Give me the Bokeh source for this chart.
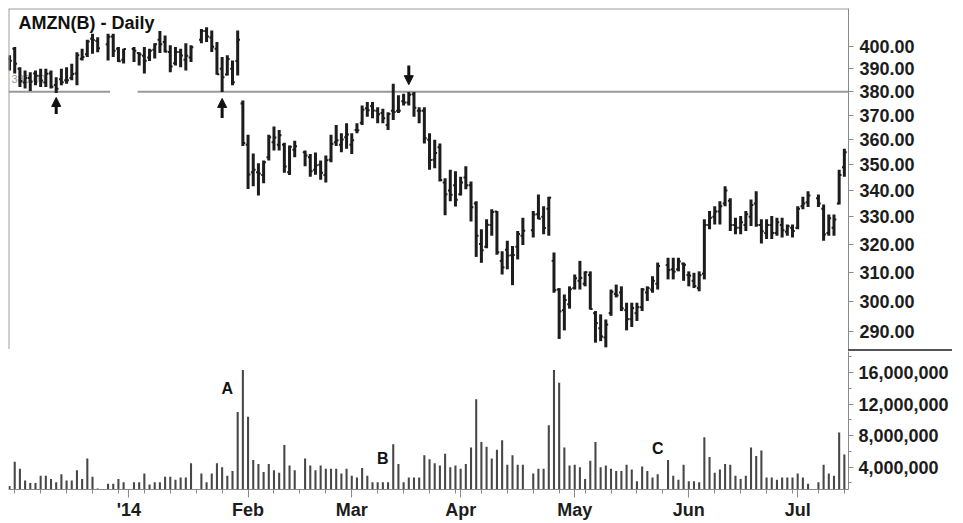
import numpy as np
import pandas as pd
from bokeh.plotting import figure
from bokeh.layouts import column
from bokeh.models import (Range1d, FixedTicker, PrintfTickFormatter, NumeralTickFormatter,
                          Span, Arrow, NormalHead, Label, ColumnDataSource, Div)
from bokeh.embed import file_html
from bokeh.resources import INLINE
from bokeh.core.properties import value

# ---------------- data ----------------
start_date = "2013-11-29"
end_date = "2014-07-14"
holidays = ["2013-12-25", "2014-01-01", "2014-01-20", "2014-02-17",
            "2014-04-18", "2014-05-26", "2014-07-04"]

opens = [394.5, 399.0, 390.0, 384.0, 386.0, 388.0, 387.0, 384.0, 388.0, 383.0,
         385.5, 385.0, 386.0, 388.0, 394.5, 396.5, 403.5, 402.5, 401.0, 404.5,
         399.0, 394.0, 398.8, 397.0, 395.8, 395.0, 398.5, 403.0, 402.0, 397.5,
         392.5, 397.5, 394.0, 395.0, 403.0, 407.0, 404.0, 399.0, 390.0, 387.5,
         390.0, 393.5, 375.0, 358.0, 347.0, 347.0, 346.0, 353.0, 359.0, 358.0,
         358.0, 347.0, 356.0, 355.0, 353.0, 348.0, 350.0, 346.0, 352.0, 359.0,
         358.0, 361.0, 358.0, 364.0, 367.0, 373.0, 374.0, 372.0, 371.0, 366.0,
         372.0, 372.0, 376.0, 375.5, 379.0, 372.0, 372.0, 360.0, 352.0, 357.0,
         343.0, 340.0, 342.0, 338.5, 345.0, 342.0, 335.0, 320.0, 319.0, 327.0,
         332.0, 314.0, 318.0, 316.0, 319.0, 323.0, 325.0, 331.0, 330.0, 333.0,
         314.0, 304.0, 297.0, 299.0, 304.5, 307.0, 306.0, 309.0, 296.0, 291.0,
         288.0, 296.0, 302.5, 303.0, 297.0, 294.0, 296.0, 298.0, 303.0, 304.0,
         306.0, 312.5, 311.0, 311.0, 313.0, 309.0, 307.0, 304.5, 309.5, 327.0,
         330.0, 332.0, 335.0, 336.0, 327.0, 326.0, 327.0, 330.0, 335.0, 327.0,
         324.0, 327.0, 324.0, 327.0, 324.5, 326.0, 326.0, 334.0, 335.5, 337.0,
         333.0, 324.0, 326.0, 335.0, 349.0]
highs = [396.0, 399.7, 390.7, 389.3, 388.5, 389.3, 390.0, 390.0, 389.3, 386.3,
         390.0, 390.7, 392.2, 397.4, 399.0, 403.0, 405.8, 404.2, 405.8, 405.8,
         399.7, 399.0, 399.7, 397.4, 399.7, 399.0, 401.4, 407.0, 405.0, 400.5,
         399.7, 399.0, 401.4, 400.5, 408.0, 408.8, 407.3, 402.0, 395.2, 396.0,
         393.7, 407.3, 376.3, 362.0, 354.5, 350.6, 351.7, 362.0, 365.4, 364.0,
         358.8, 357.7, 359.6, 355.7, 354.3, 354.9, 351.7, 353.7, 362.0, 366.1,
         362.7, 366.8, 362.7, 366.8, 374.2, 375.7, 375.7, 373.5, 372.8, 371.4,
         383.5, 378.5, 379.2, 379.9, 379.9, 373.5, 373.5, 362.7, 360.0, 358.5,
         344.7, 348.0, 347.4, 345.3, 349.4, 343.4, 335.9, 325.4, 329.1, 332.8,
         332.2, 317.4, 321.2, 319.3, 324.8, 329.7, 332.2, 338.4, 334.0, 337.6,
         317.0, 304.5, 302.3, 305.1, 309.2, 314.0, 310.3, 310.3, 296.7, 295.6,
         293.9, 304.0, 305.7, 305.1, 299.5, 299.5, 299.5, 304.5, 305.1, 308.6,
         313.4, 315.1, 315.1, 315.1, 313.4, 310.3, 309.8, 310.3, 329.1, 332.2,
         334.0, 335.9, 341.6, 337.0, 329.7, 330.3, 332.2, 336.5, 339.7, 329.1,
         329.1, 330.3, 329.7, 329.7, 327.2, 327.2, 334.0, 337.6, 339.7, 338.4,
         334.6, 330.9, 330.9, 348.0, 356.4]
lows = [389.3, 388.0, 382.1, 381.5, 380.4, 382.8, 382.1, 382.1, 381.5, 379.5,
        382.8, 383.5, 385.0, 382.8, 393.7, 395.2, 396.7, 397.4, 393.7, 395.2,
        393.0, 392.4, 393.0, 391.5, 388.0, 393.5, 394.6, 397.0, 397.3, 388.5,
        391.5, 390.7, 389.3, 393.0, 401.4, 402.0, 397.5, 387.4, 379.9, 387.1,
        382.8, 387.1, 357.5, 340.5, 341.6, 338.0, 342.8, 351.7, 355.7, 355.7,
        346.8, 346.0, 353.0, 349.4, 345.3, 346.1, 344.1, 343.0, 351.0, 357.5,
        355.0, 356.4, 354.3, 362.7, 366.1, 369.5, 368.8, 366.8, 366.8, 364.0,
        368.1, 371.0, 374.2, 374.2, 369.5, 366.8, 358.5, 348.0, 348.6, 343.4,
        330.6, 335.9, 333.9, 338.0, 340.4, 328.3, 315.4, 313.3, 318.5, 323.0,
        316.2, 309.2, 311.0, 305.5, 314.5, 319.7, 322.4, 329.1, 323.6, 323.0,
        302.9, 287.5, 290.3, 297.5, 304.0, 304.0, 305.1, 297.2, 286.3, 286.8,
        284.8, 295.1, 301.3, 296.7, 290.3, 291.4, 293.4, 296.7, 300.1, 302.9,
        304.0, 307.5, 307.5, 310.3, 307.0, 305.1, 304.5, 303.4, 307.5, 325.4,
        327.2, 327.2, 334.0, 324.8, 323.6, 323.6, 324.8, 326.6, 326.3, 320.2,
        321.8, 321.8, 323.0, 322.4, 323.0, 322.4, 325.4, 332.8, 333.7, 333.7,
        321.2, 323.0, 323.0, 334.6, 345.3]
closes = [393.6, 392.3, 384.7, 386.0, 384.5, 387.0, 384.9, 387.8, 382.2, 381.3,
          384.2, 385.0, 387.7, 396.0, 395.2, 402.2, 402.9, 399.2, 404.4, 398.1,
          393.4, 398.8, 398.0, 396.4, 393.6, 398.0, 401.0, 401.0, 397.7, 391.0,
          397.5, 395.9, 395.8, 399.6, 407.0, 404.5, 399.9, 387.6, 386.3, 394.4,
          384.2, 403.0, 358.7, 346.2, 348.0, 346.5, 351.0, 361.0, 360.9, 361.8,
          349.3, 357.2, 357.4, 353.7, 347.4, 349.8, 346.8, 351.8, 358.3, 359.8,
          360.1, 362.1, 359.8, 363.9, 372.4, 372.2, 372.1, 370.5, 368.8, 370.6,
          371.5, 372.0, 375.5, 378.8, 373.2, 372.0, 360.6, 351.9, 354.7, 344.0,
          338.5, 338.3, 336.4, 343.0, 342.0, 333.6, 323.0, 317.8, 327.1, 331.8,
          317.1, 311.7, 315.9, 316.1, 323.7, 324.9, 330.9, 329.3, 325.9, 337.2,
          303.8, 296.6, 300.4, 304.1, 307.9, 308.0, 310.0, 297.4, 292.7, 288.3,
          292.2, 303.2, 302.0, 297.6, 294.0, 297.7, 298.0, 304.0, 304.5, 307.0,
          312.2, 310.8, 310.2, 313.8, 312.6, 308.8, 305.2, 309.0, 327.0, 329.7,
          332.0, 334.0, 340.0, 327.0, 326.0, 328.0, 331.0, 334.4, 327.0, 324.7,
          327.0, 324.0, 328.0, 325.0, 326.5, 324.8, 333.0, 335.0, 338.0, 335.0,
          323.5, 329.5, 329.0, 346.0, 355.0]
volume_millions = [1.6, 4.7, 3.8, 2.3, 2.0, 2.0, 2.9, 2.9, 2.5, 2.1,
                   3.1, 2.3, 2.3, 3.6, 2.5, 5.1, 2.8, 1.3, 1.9, 1.9,
                   2.5, 2.1, 2.1, 2.1, 3.2, 1.8, 2.1, 2.1, 2.8, 2.8,
                   2.4, 2.7, 2.7, 4.5, 3.2, 2.1, 3.2, 4.5, 4.0, 2.9,
                   3.5, 11.0, 16.3, 10.4, 4.9, 4.4, 3.4, 4.4, 3.6, 3.3,
                   6.8, 4.2, 3.6, 5.1, 4.2, 3.6, 4.2, 3.8, 3.8, 3.8,
                   3.2, 3.8, 2.9, 2.7, 3.9, 2.9, 2.1, 2.1, 2.1, 2.1,
                   6.9, 4.4, 2.1, 2.7, 2.7, 2.7, 5.5, 5.0, 4.5, 4.2,
                   5.7, 4.0, 4.2, 3.8, 4.4, 6.5, 12.6, 7.2, 6.6, 5.1,
                   6.2, 7.4, 4.3, 5.5, 4.3, 4.3, 3.2, 3.8, 3.8, 9.3,
                   16.3, 14.7, 6.5, 4.2, 4.3, 4.0, 2.5, 4.8, 7.2, 4.0,
                   4.2, 3.8, 3.5, 3.5, 4.3, 3.7, 2.2, 4.1, 3.5, 2.7,
                   3.1, 4.9, 2.9, 2.4, 4.3, 2.2, 2.2, 2.1, 7.8, 5.3,
                   3.3, 3.7, 4.4, 4.3, 2.9, 2.5, 2.9, 6.5, 5.4, 6.1,
                   2.7, 2.7, 2.4, 2.7, 2.7, 2.7, 3.2, 2.7, 1.9, 2.1,
                   4.3, 3.2, 2.9, 8.4, 5.6]

price_ticks = [290, 300, 310, 320, 330, 340, 350, 360, 370, 380, 390, 400]
volume_ticks = [4e6, 8e6, 12e6, 16e6]
volume_minor_ticks = [2e6, 6e6, 10e6, 14e6, 18e6]
month_tick_dates = ["2014-01-01", "2014-02-03", "2014-03-03", "2014-04-01",
                    "2014-05-01", "2014-06-02", "2014-07-01"]
month_tick_labels = ["'14", "Feb", "Mar", "Apr", "May", "Jun", "Jul"]

support_level = 380
support_gap = ("2013-12-26", "2014-01-02")
arrow_dates = ["2013-12-12", "2014-01-27", "2014-03-18"]
arrow_tail = [370.6, 369.0, 391.5]
arrow_tip = [377.6, 377.2, 383.1]
note_text = ["A", "B", "C"]
note_dates = ["2014-01-28", "2014-03-11", "2014-05-23"]
note_vol = [14.0e6, 5.1e6, 6.4e6]

# ---------------- helpers ----------------
BASE = np.datetime64("2014-01-01")


def wd(d):
    return np.busday_count(BASE, np.datetime64(d, "D"))


dates = pd.bdate_range(start_date, end_date)
dates = dates[~dates.isin(pd.to_datetime(holidays))]
xs = np.busday_count(BASE, dates.values.astype("datetime64[D]")).astype(float)
assert len(xs) == len(opens) == len(highs) == len(lows) == len(closes) == len(volume_millions)

src = ColumnDataSource(dict(
    x=xs, o=opens, h=highs, l=lows, c=closes,
    xo=xs - 0.45, xc=xs + 0.45,
    v=np.array(volume_millions) * 1e6,
))

FONT = "Liberation Sans"
PAD = 8
FRAME_W = 840
RIGHT_W = 107
X0, X1 = -23.2, 138.8
P_LO, P_HI = 284.1, 417.5
V_LO, V_HI = 1.17e6, 18.66e6
x_range = Range1d(X0, X1)
AX = "#8a8a8a"
INK = "#1c1c1c"

# ---------------- price panel ----------------
p1 = figure(frame_width=FRAME_W, frame_height=341, x_range=x_range,
            y_range=Range1d(P_LO, P_HI), y_axis_type="log",
            x_axis_location=None, y_axis_location="right",
            output_backend="svg", toolbar_location=None,
            min_border_left=PAD, min_border_top=PAD, min_border_bottom=0,
            min_border_right=RIGHT_W, margin=0)
p1.grid.visible = False
p1.outline_line_color = None
p1.background_fill_color = "white"
p1.border_fill_color = "white"

ya = p1.yaxis[0]
ya.ticker = FixedTicker(ticks=price_ticks)
ya.formatter = PrintfTickFormatter(format="%.2f")
ya.axis_line_color = AX
ya.major_tick_line_color = AX
ya.major_tick_out = 5
ya.major_tick_in = 0
ya.minor_tick_line_color = None
ya.major_label_text_font = FONT
ya.major_label_text_font_style = "bold"
ya.major_label_text_font_size = "18px"
ya.major_label_text_color = INK
ya.major_label_standoff = 6

p1.add_layout(Span(location=X0, dimension="height", line_color="#a0a0a0", line_width=2))
p1.add_layout(Span(location=P_HI, dimension="width", line_color="#a0a0a0", line_width=2))

# faint level label under the bars
p1.text(x=[X0 + 0.6], y=[385.4], text=["380.00"], text_color="#9a9a9a",
        text_font=value(FONT), text_font_size="11px",
        text_align="left", text_baseline="middle")

# support line with its break
g0 = wd(support_gap[0]) + 0.4
g1 = wd(support_gap[1]) + 0.7
p1.segment(x0=[X0, g1], x1=[g0, X1], y0=[support_level] * 2, y1=[support_level] * 2,
           line_color="#999999", line_width=2)

p1.segment(x0="x", x1="x", y0="l", y1="h", source=src, line_color=INK, line_width=3)
p1.segment(x0="xo", x1="x", y0="o", y1="o", source=src, line_color=INK, line_width=2)
p1.segment(x0="x", x1="xc", y0="c", y1="c", source=src, line_color=INK, line_width=2)

arr_src = ColumnDataSource(dict(x=[float(wd(d)) for d in arrow_dates], t=arrow_tail, h=arrow_tip))
p1.add_layout(Arrow(end=NormalHead(size=9, fill_color="#111111", line_color="#111111"),
                    source=arr_src, x_start="x", y_start="t", x_end="x", y_end="h",
                    line_color="#111111", line_width=3))

p1.add_layout(Label(x=X0 + 10 / 5.184, y=410.5, text="AMZN(B) - Daily",
                    text_font=FONT, text_font_style="bold", text_font_size="18px",
                    text_color="#111111", text_baseline="alphabetic", text_align="left"))

# separator under the price axis (from the right frame edge into the axis area)
sep = Div(text="", width=PAD + FRAME_W + RIGHT_W, height=2, margin=0,
          styles={"padding": "0", "margin": "0", "overflow": "hidden",
                  "background": "linear-gradient(to right, transparent %dpx, #555555 %dpx, "
                                "#555555 %dpx, transparent %dpx)"
                                % (PAD + FRAME_W, PAD + FRAME_W, PAD + FRAME_W + 104,
                                   PAD + FRAME_W + 104)})

# ---------------- volume panel ----------------
p2 = figure(frame_width=FRAME_W, frame_height=138, x_range=x_range,
            y_range=Range1d(V_LO, V_HI), y_axis_location="right",
            output_backend="svg", toolbar_location=None,
            min_border_left=PAD, min_border_top=0, min_border_bottom=0,
            min_border_right=RIGHT_W, margin=0)
p2.grid.visible = False
p2.outline_line_color = None
p2.background_fill_color = "white"
p2.border_fill_color = "white"

p2.vbar(x="x", top="v", bottom=0, width=0.4, source=src,
        fill_color="#474747", line_color=None)

p2.text(x=[float(wd(d)) for d in note_dates], y=note_vol, text=note_text,
        text_font=value(FONT), text_font_style="bold", text_font_size="16px",
        text_color="#111111", text_align="center", text_baseline="middle")

va = p2.yaxis[0]
va.ticker = FixedTicker(ticks=volume_ticks, minor_ticks=volume_minor_ticks)
va.formatter = NumeralTickFormatter(format="0,0")
va.axis_line_color = AX
va.major_tick_line_color = AX
va.minor_tick_line_color = AX
va.major_tick_out = 5
va.major_tick_in = 0
va.minor_tick_out = 3
va.minor_tick_in = 0
va.major_label_text_font = FONT
va.major_label_text_font_style = "bold"
va.major_label_text_font_size = "18px"
va.major_label_text_color = INK
va.major_label_standoff = 5

month_x = [int(wd(d)) for d in month_tick_dates]
mondays = pd.date_range(start_date, end_date, freq="W-MON")
monday_x = [int(wd(d.strftime("%Y-%m-%d"))) for d in mondays]
monday_x = [m for m in monday_x if m not in month_x]
xa = p2.xaxis[0]
xa.ticker = FixedTicker(ticks=month_x, minor_ticks=monday_x)
xa.major_label_overrides = {m: lab for m, lab in zip(month_x, month_tick_labels)}
xa.axis_line_color = AX
xa.major_tick_line_color = AX
xa.minor_tick_line_color = AX
xa.major_tick_out = 8
xa.major_tick_in = 0
xa.minor_tick_out = 4
xa.minor_tick_in = 0
xa.major_label_text_font = FONT
xa.major_label_text_font_style = "bold"
xa.major_label_text_font_size = "18px"
xa.major_label_text_color = INK
xa.major_label_standoff = 2

layout = column(p1, sep, p2, spacing=0)
open("out.html", "w").write(file_html(layout, INLINE))
